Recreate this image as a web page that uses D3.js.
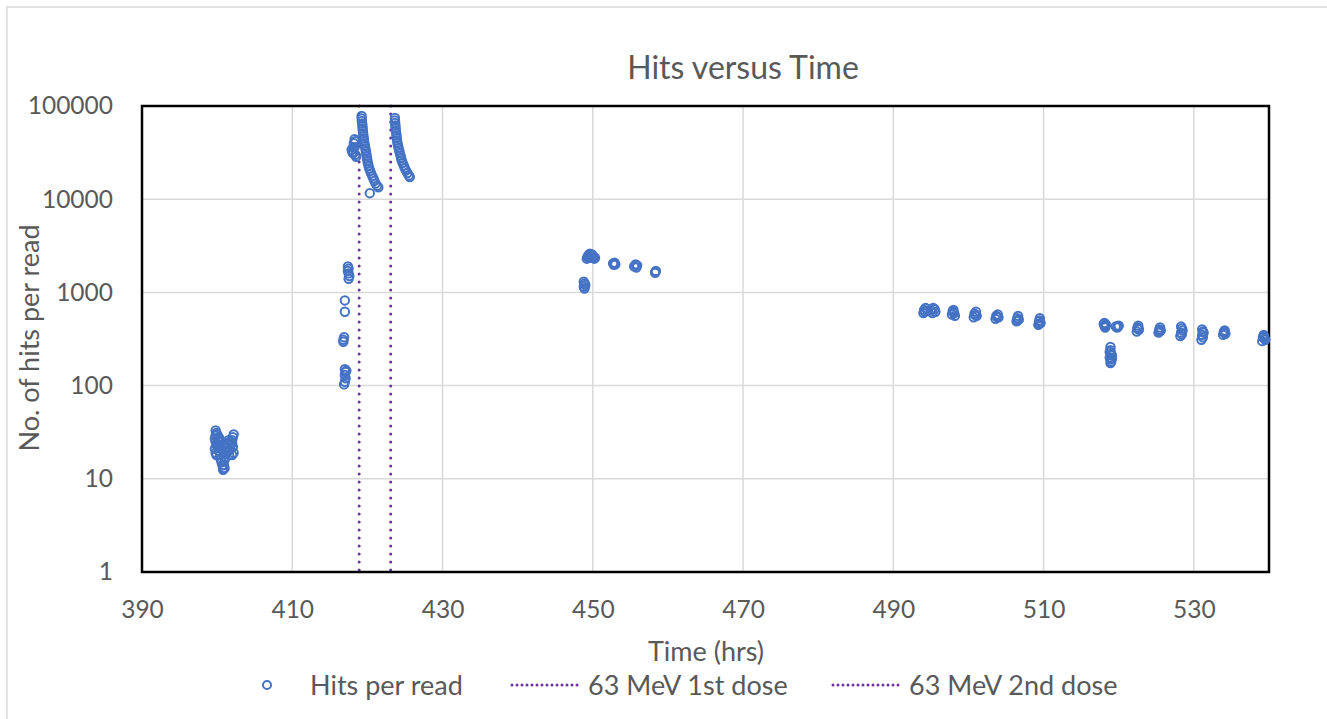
<!DOCTYPE html>
<html>
<head>
<meta charset="utf-8">
<script src="https://cdn.jsdelivr.net/npm/d3@7"></script>
<style>
  body { margin: 0; background: #fff; }
  text { font-family: Lato, 'Open Sans', sans-serif; fill: #595959; }
</style>
</head>
<body>
<svg width="1327" height="719"></svg>
<script>
// [time (hrs), hits per read]
var beforeDose = [
    [399.8, 33], [399.9, 31], [399.8, 29], [399.7, 27], [399.8, 25], [399.9, 23], [399.7, 21],
    [399.8, 19], [399.9, 18], [400.0, 24], [400.1, 22], [400.2, 20], [400.3, 27], [400.4, 18],
    [400.5, 16], [400.6, 15], [400.7, 14], [400.8, 13], [400.8, 12.5], [400.9, 14], [401.0, 13],
    [401.0, 16], [401.1, 17], [401.2, 19], [401.3, 22], [401.4, 24], [401.5, 20], [401.6, 18],
    [401.7, 21], [401.8, 23], [402.0, 26], [402.1, 28], [402.2, 30], [402.0, 24], [402.1, 22],
    [402.2, 19], [402.0, 18], [400.3, 23], [400.5, 21], [400.6, 25], [400.2, 28], [401.5, 26],
    [401.7, 25], [400.0, 30], [400.1, 26]
];

var rampUp = [
    [416.9, 103], [417.0, 110], [417.1, 120], [417.0, 130], [417.1, 140], [417.0, 150], [417.2, 145],
    [416.8, 295], [416.8, 310], [416.9, 330],
    [417.0, 620], [417.0, 820],
    [417.5, 1400], [417.6, 1500], [417.5, 1600], [417.4, 1700], [417.5, 1800], [417.4, 1900],
    [417.9, 34000], [418.0, 32000], [418.1, 36000], [418.2, 40000], [418.3, 44000], [418.4, 42000],
    [418.4, 30000], [418.5, 28500], [418.3, 36000], [418.1, 31000]
];

var firstDecay = [
    [419.23, 78100], [419.24, 73400], [419.27, 69000], [419.30, 64900], [419.34, 61000],
    [419.36, 57400], [419.40, 53900], [419.43, 50700], [419.47, 47700], [419.51, 44800],
    [419.55, 42100], [419.60, 39600], [419.68, 37200], [419.73, 35000], [419.79, 32900],
    [419.84, 30900], [419.91, 29100], [419.96, 27300], [420.01, 25700], [420.08, 24200],
    [420.16, 22700], [420.25, 21300], [420.37, 20100], [420.49, 18900], [420.65, 17700],
    [420.80, 16700], [420.93, 15700], [421.09, 14700], [421.30, 13900], [421.46, 13400],
    [420.32, 11600]
];

var secondDecay = [
    [423.66, 74300], [423.67, 69900], [423.70, 65700], [423.72, 61800], [423.75, 58100],
    [423.79, 54600], [423.83, 51300], [423.87, 48300], [423.91, 45400], [423.95, 42600],
    [424.00, 40100], [424.07, 37700], [424.15, 35400], [424.23, 33300], [424.31, 31300],
    [424.40, 29400], [424.48, 27700], [424.57, 26000], [424.69, 24500], [424.84, 23000],
    [424.97, 21600], [425.13, 20300], [425.32, 19100], [425.51, 18000], [425.64, 17300]
];

var dayTwo = [
    [448.8, 1150], [448.9, 1250], [448.8, 1300], [449.0, 1200], [448.9, 1100],
    [449.2, 2300], [449.4, 2500], [449.6, 2600], [449.8, 2400], [450.0, 2350], [450.2, 2300],
    [449.5, 2350], [449.3, 2400], [449.9, 2550], [450.3, 2350], [449.6, 2450], [450.1, 2400],
    [452.7, 2050], [453.0, 2000], [452.8, 1980], [452.9, 2080],
    [455.5, 1900], [455.7, 2000], [455.8, 1850], [455.9, 1950],
    [458.3, 1650], [458.4, 1700], [458.3, 1620]
];

var dayFour = [
    [494.0, 600], [494.1, 650], [494.3, 680], [494.2, 620], [495.0, 640], [495.3, 680], [495.5, 660], [495.6, 620],
    [494.6, 640], [495.2, 600],
    [497.8, 580], [497.9, 630], [498.0, 650], [498.1, 600], [498.2, 560], [498.0, 610],
    [500.7, 540], [500.8, 590], [501.0, 620], [501.1, 560], [500.9, 570],
    [503.6, 520], [503.7, 560], [503.9, 580], [504.0, 540], [503.8, 545],
    [506.4, 490], [506.5, 530], [506.6, 560], [506.7, 510], [506.5, 500],
    [509.3, 450], [509.4, 490], [509.5, 530], [509.6, 470], [509.4, 460], [509.5, 500]
];

var dayFive = [
    [518.0, 460], [518.1, 440], [518.2, 420], [518.3, 450], [518.1, 470], [518.2, 430],
    [519.6, 430], [519.8, 420], [520.0, 440], [519.9, 430],
    [518.9, 260], [518.9, 240], [519.0, 220], [518.8, 200], [518.9, 190], [519.0, 180], [518.9, 175], [519.1, 210],
    [518.8, 230], [519.1, 195],
    [522.4, 380], [522.5, 410], [522.6, 440], [522.7, 400], [522.5, 420],
    [525.3, 370], [525.4, 400], [525.5, 420], [525.6, 390], [525.4, 380],
    [528.2, 340], [528.3, 370], [528.4, 410], [528.3, 430], [528.5, 390], [528.4, 355],
    [531.0, 310], [531.1, 350], [531.2, 380], [531.1, 400], [531.3, 370], [531.2, 330],
    [533.9, 350], [534.0, 370], [534.1, 390], [534.2, 360], [534.0, 380],
    [539.1, 300], [539.2, 330], [539.3, 350], [539.4, 320], [539.5, 310], [539.3, 340]
];

var doseTimes = [418.9, 423.1];
var xTicks = [390, 410, 430, 450, 470, 490, 510, 530];
var yTicks = [1, 10, 100, 1000, 10000, 100000];
var legendNames = ['Hits per read', '63 MeV 1st dose', '63 MeV 2nd dose'];

var hits = [].concat(beforeDose, rampUp, firstDecay, secondDecay, dayTwo, dayFour, dayFive);

var svg = d3.select('svg');
var blue = '#4472C4';
var purple = '#7030A0';

var x = d3.scaleLinear().domain([390, 540]).range([142, 1269]);
var y = d3.scaleLog().domain([1, 100000]).range([572, 106]);

// chart frame
svg.append('rect')
    .attr('x', 7)
    .attr('y', 7)
    .attr('width', 1340)
    .attr('height', 730)
    .attr('fill', '#fff')
    .attr('stroke', '#d9d9d9')
    .attr('stroke-width', 1.5);

// gridlines
svg.selectAll('line.vgrid')
    .data(xTicks.slice(1))
    .enter()
    .append('line')
    .attr('x1', function(d){
        return x(d)
    })
    .attr('x2', function(d){
        return x(d)
    })
    .attr('y1', y(100000))
    .attr('y2', y(1))
    .attr('stroke', '#d9d9d9')
    .attr('stroke-width', 1.5);

svg.selectAll('line.hgrid')
    .data(yTicks.slice(1))
    .enter()
    .append('line')
    .attr('x1', x(390))
    .attr('x2', x(540))
    .attr('y1', function(d){
        return y(d)
    })
    .attr('y2', function(d){
        return y(d)
    })
    .attr('stroke', '#d9d9d9')
    .attr('stroke-width', 1.5);

// axes labels via d3 axes
var xAxis = svg.append('g')
    .attr('transform', 'translate(0,' + 572 + ')')
    .call(d3.axisBottom(x).tickValues(xTicks).tickSize(0).tickPadding(29));
var yAxis = svg.append('g')
    .attr('transform', 'translate(' + 142 + ',0)')
    .call(d3.axisLeft(y).tickValues(yTicks).tickFormat(d3.format('d')).tickSize(0).tickPadding(29));

[xAxis, yAxis].forEach(function(g){
    g.select('.domain').remove();
    g.selectAll('text')
        .attr('fill', '#595959')
        .style('font-size', '24.5px')
        .style('font-family', 'Lato, sans-serif');
});

// dose lines
svg.selectAll('line.dose')
    .data(doseTimes)
    .enter()
    .append('line')
    .attr('x1', function(d){
        return x(d)
    })
    .attr('x2', function(d){
        return x(d)
    })
    .attr('y1', y(100000))
    .attr('y2', y(1))
    .attr('stroke', purple)
    .attr('stroke-width', 3)
    .attr('stroke-linecap', 'round')
    .attr('stroke-dasharray', '0,8');

// plot border
svg.append('rect')
    .attr('x', x(390))
    .attr('y', y(100000))
    .attr('width', x(540) - x(390))
    .attr('height', y(1) - y(100000))
    .attr('fill', 'none')
    .attr('stroke', '#000')
    .attr('stroke-width', 2.5);

// hits markers
svg.selectAll('circle.hit')
    .data(hits)
    .enter()
    .append('circle')
    .attr('cx', function(d){
        return x(d[0])
    })
    .attr('cy', function(d){
        return y(d[1])
    })
    .attr('r', 4.2)
    .attr('fill', 'none')
    .attr('stroke', blue)
    .attr('stroke-width', 2);

// titles
svg.append('text')
    .attr('x', 743)
    .attr('y', 79)
    .attr('text-anchor', 'middle')
    .style('font-size', '32px')
    .text('Hits versus Time');

svg.append('text')
    .attr('x', 706)
    .attr('y', 661)
    .attr('text-anchor', 'middle')
    .style('font-size', '27px')
    .text('Time (hrs)');

svg.append('text')
    .attr('transform', 'translate(39,338) rotate(-90)')
    .attr('text-anchor', 'middle')
    .style('font-size', '27px')
    .text('No. of hits per read');

// legend
svg.append('circle')
    .attr('cx', 267)
    .attr('cy', 685)
    .attr('r', 4)
    .attr('fill', 'none')
    .attr('stroke', blue)
    .attr('stroke-width', 2);

svg.selectAll('line.legend')
    .data([512, 833])
    .enter()
    .append('line')
    .attr('x1', function(d){
        return d
    })
    .attr('x2', function(d){
        return d + 70
    })
    .attr('y1', 685)
    .attr('y2', 685)
    .attr('stroke', purple)
    .attr('stroke-width', 3)
    .attr('stroke-linecap', 'round')
    .attr('stroke-dasharray', '0,5');

svg.selectAll('text.legend')
    .data(legendNames)
    .enter()
    .append('text')
    .attr('x', function(d, i){
        return [310, 588, 909][i]
    })
    .attr('y', 695)
    .style('font-size', '27px')
    .text(function(d){
        return d
    });
</script>
</body>
</html>
